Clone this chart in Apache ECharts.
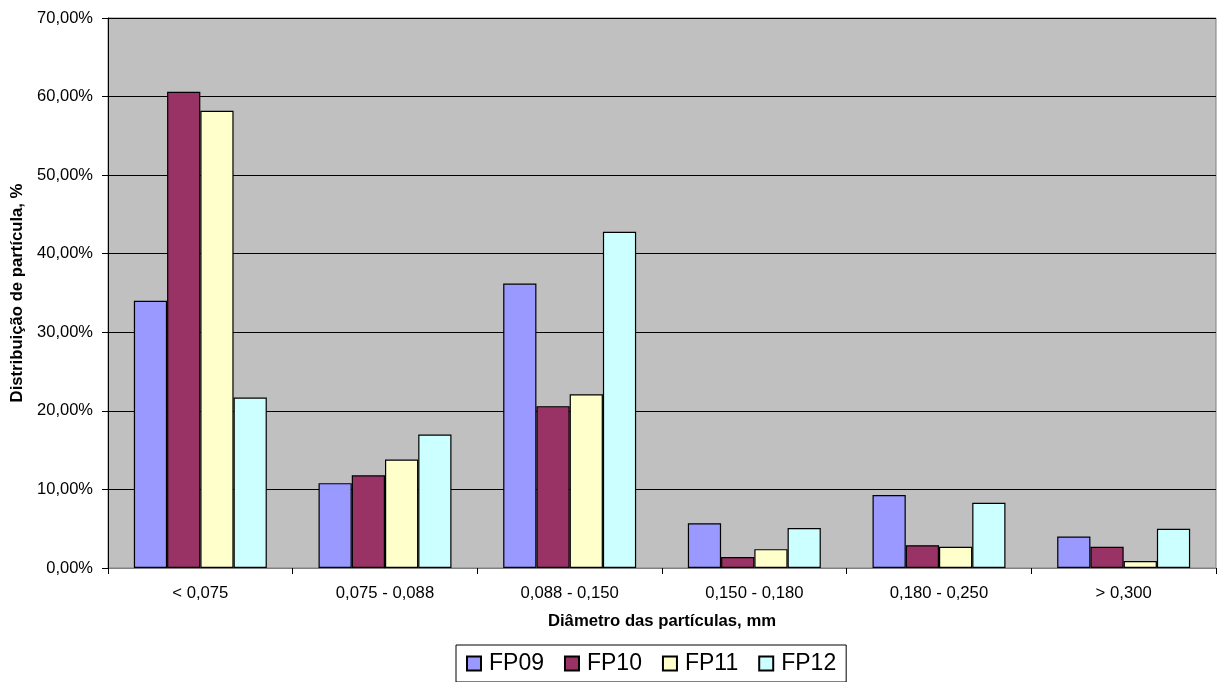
<!DOCTYPE html>
<html>
<head>
<meta charset="utf-8">
<script src="https://cdn.jsdelivr.net/npm/echarts@6/dist/echarts.min.js"></script>
<style>
  html, body { margin: 0; padding: 0; background: #ffffff; }
  #chart { width: 1222px; height: 682px; }
</style>
</head>
<body>
<div id="chart"></div>
<script>
// Particle size classes (mm)
const categories = ['< 0,075', '0,075 - 0,088', '0,088 - 0,150', '0,150 - 0,180', '0,180 - 0,250', '> 0,300'];

// Particle size distribution per sample, in %
const fp09 = [34.0, 10.8, 36.2, 5.7, 9.3, 4.0];
const fp10 = [60.6, 11.8, 20.6, 1.4, 2.9, 2.7];
const fp11 = [58.2, 13.8, 22.1, 2.4, 2.7, 0.9];
const fp12 = [21.7, 17.0, 42.8, 5.1, 8.3, 5.0];

const seriesNames = ['FP09', 'FP10', 'FP11', 'FP12'];
const seriesColors = ['#9999FF', '#993366', '#FFFFCC', '#CCFFFF'];

const font = 'Liberation Sans, Arial, sans-serif';

function pct(v) {
  return v.toFixed(2).replace('.', ',') + '%';
}

const chart = echarts.init(document.getElementById('chart'), null, { renderer: 'canvas' });

const option = {
  backgroundColor: '#ffffff',
  animation: false,
  textStyle: { fontFamily: font },
  grid: {
    left: 108, right: 6, top: 18, bottom: 114,
    show: true,
    backgroundColor: '#C0C0C0',
    borderColor: '#808080',
    borderWidth: 1
  },
  legend: {
    data: seriesNames,
    left: 456,
    top: 645,
    orient: 'horizontal',
    itemWidth: 14,
    itemHeight: 14,
    itemGap: 20,
    padding: [7, 10, 7, 10],
    borderColor: '#000000',
    borderWidth: 1,
    icon: 'rect',
    textStyle: { fontFamily: font, fontSize: 23, color: '#000000', padding: [0, 0, 0, 3] }
  },
  xAxis: {
    type: 'category',
    data: categories,
    name: 'Diâmetro das partículas, mm',
    nameLocation: 'middle',
    nameGap: 45,
    nameTextStyle: { fontFamily: font, fontSize: 16.7, fontWeight: 'bold', color: '#000000' },
    axisLine: { show: true, lineStyle: { color: '#808080', width: 1 } },
    axisTick: { show: true, inside: false, length: 6, alignWithLabel: false, lineStyle: { color: '#000000' } },
    axisLabel: { fontFamily: font, fontSize: 16.7, color: '#000000', margin: 17 },
    splitLine: { show: false }
  },
  yAxis: {
    type: 'value',
    min: 0,
    max: 70,
    interval: 10,
    name: 'Distribuição de partícula, %',
    nameLocation: 'middle',
    nameGap: 78,
    nameRotate: 90,
    nameTextStyle: { fontFamily: font, fontSize: 16.7, fontWeight: 'bold', color: '#000000' },
    axisLine: { show: true, lineStyle: { color: '#000000', width: 1 } },
    axisTick: { show: true, inside: false, length: 6, lineStyle: { color: '#000000' } },
    axisLabel: { fontFamily: font, fontSize: 16.5, color: '#000000', margin: 15, formatter: pct },
    splitLine: { show: true, lineStyle: { color: '#000000', width: 1 } }
  },
  series: [fp09, fp10, fp11, fp12].map((vals, i) => ({
    name: seriesNames[i],
    type: 'bar',
    data: vals,
    barGap: '0%',
    barCategoryGap: '28%',
    itemStyle: { color: seriesColors[i], borderColor: '#000000', borderWidth: 1.2 }
  }))
};

chart.setOption(option);
</script>
</body>
</html>
